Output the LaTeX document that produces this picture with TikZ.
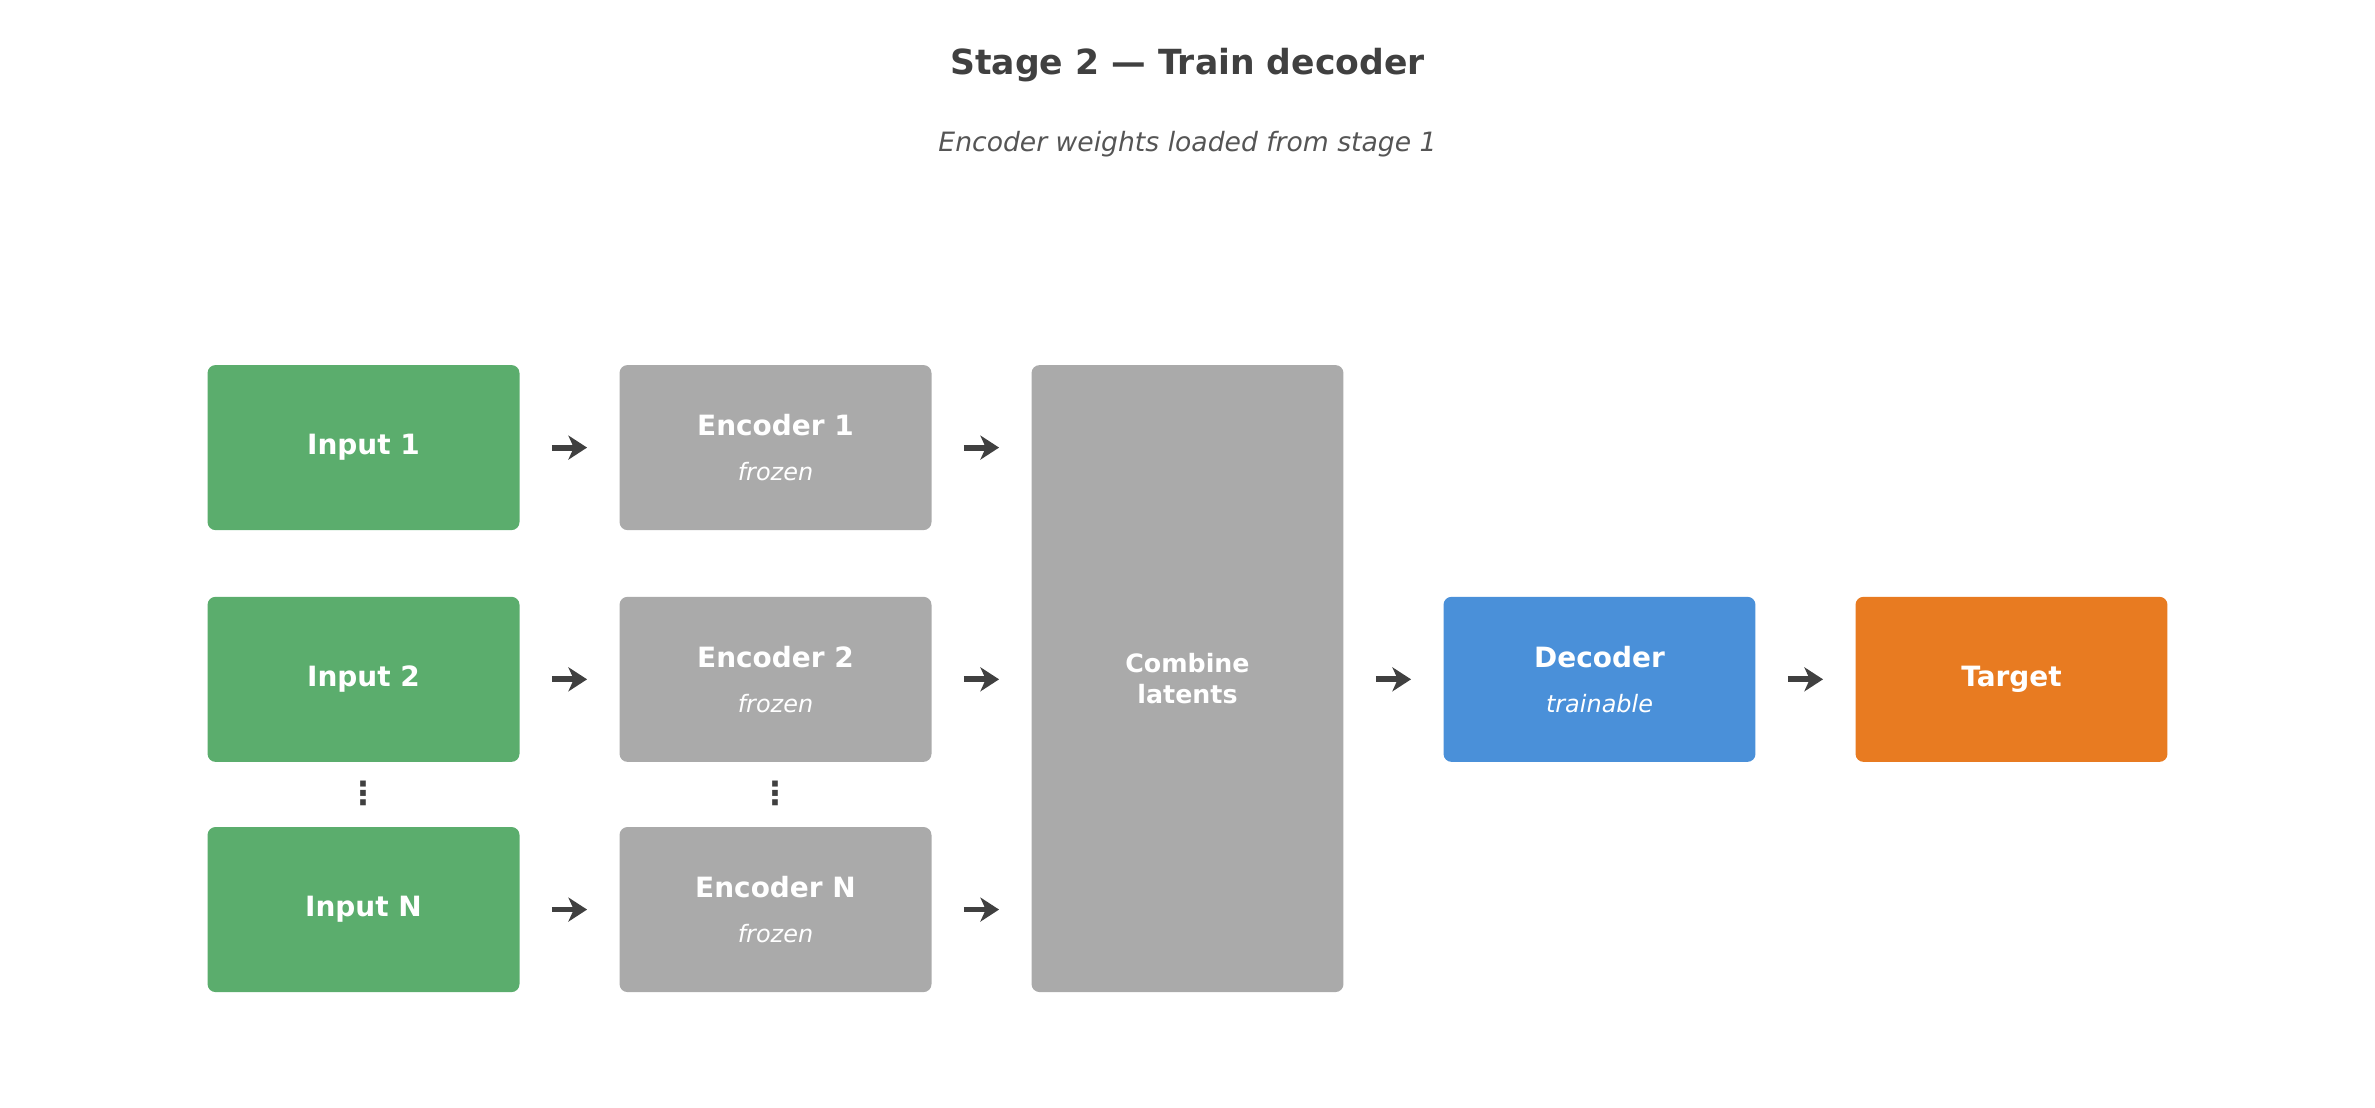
\documentclass[tikz,border=0pt]{standalone}
\usepackage{fontspec}
\setmainfont{DejaVu Sans}
\usetikzlibrary{arrows.meta}
\definecolor{cgreen}{HTML}{5BAD6D}
\definecolor{cgray}{HTML}{AAAAAA}
\definecolor{cblue}{HTML}{4A90D9}
\definecolor{corange}{HTML}{E87B21}
\definecolor{cdark}{HTML}{404040}
\definecolor{csub}{HTML}{555555}
\newcommand{\subtxt}[1]{{\fontsize{9}{11}\selectfont\itshape\mdseries #1}}
\begin{document}
\begin{tikzpicture}[x=0.02cm,y=-0.02cm,
  box/.style={rounded corners=3pt,minimum width=4.12cm,minimum height=2.18cm,inner sep=0pt,text=white,align=center,font=\fontsize{10.5}{12}\selectfont\bfseries},
  arr/.style={draw=cdark,line width=2.2pt,-{Stealth[length=7pt,width=9pt,inset=2pt]},shorten <=12pt,shorten >=12pt}]
\useasboundingbox (0,0) rectangle (1568,731.5);
\node[font=\fontsize{13}{15}\selectfont\bfseries,text=cdark] (title) at (784,43) {Stage 2 — Train decoder};
\node[font=\fontsize{10}{12}\selectfont\itshape,text=csub] (subtitle) at (784,95) {Encoder weights loaded from stage 1};
\node[box,fill=cgreen] (i1) at (240,295.5) {Input 1};
\node[box,fill=cgreen] (i2) at (240,448.5) {Input 2};
\node[box,fill=cgreen] (iN) at (240,600.5) {Input N};
\node[box,fill=cgray] (e1) at (512,295.5) {Encoder 1\\[5pt]\subtxt{frozen}};
\node[box,fill=cgray] (e2) at (512,448.5) {Encoder 2\\[5pt]\subtxt{frozen}};
\node[box,fill=cgray] (eN) at (512,600.5) {Encoder N\\[5pt]\subtxt{frozen}};
\node[box,fill=cgray,minimum height=8.28cm,font=\fontsize{9.5}{11.5}\selectfont\bfseries] (comb) at (784,448) {Combine\\latents};
\node[box,fill=cblue] (dec) at (1056,448.5) {Decoder\\[5pt]\subtxt{trainable}};
\node[box,fill=corange] (tgt) at (1328,448.5) {Target};
\node[text=cdark,font=\fontsize{12}{14}\selectfont\bfseries] (d1) at (240,524) {⋮};
\node[text=cdark,font=\fontsize{12}{14}\selectfont\bfseries] (d2) at (512,524) {⋮};
\draw[arr] (i1) -- (e1);
\draw[arr] (i2) -- (e2);
\draw[arr] (iN) -- (eN);
\draw[arr] (e1.east) -- (e1.east -| comb.west);
\draw[arr] (e2.east) -- (e2.east -| comb.west);
\draw[arr] (eN.east) -- (eN.east -| comb.west);
\draw[arr] (comb.east |- dec.west) -- (dec.west);
\draw[arr] (dec) -- (tgt);
\end{tikzpicture}
\end{document}
